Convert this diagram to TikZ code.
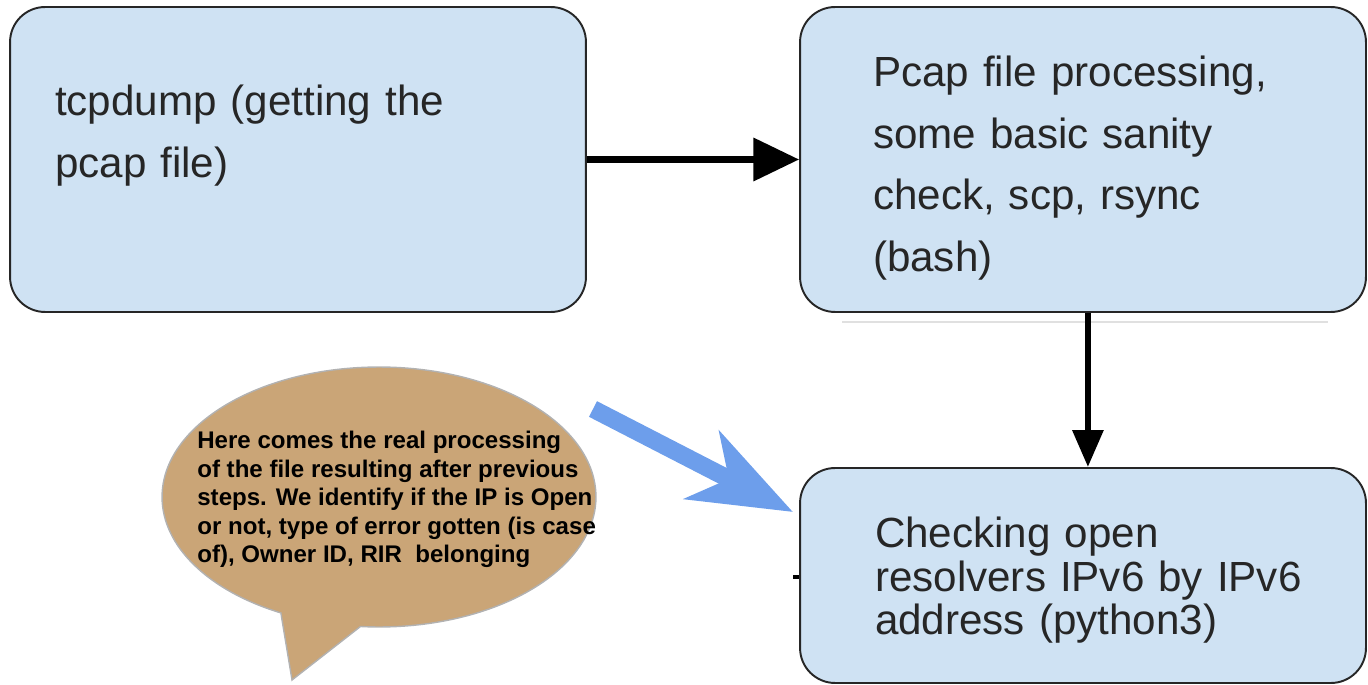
\documentclass[tikz,border=0pt]{standalone}
\usepackage{fontspec}
\setmainfont{Liberation Sans}
\usetikzlibrary{arrows.meta,shapes.callouts}
\definecolor{boxblue}{RGB}{207,226,243}
\definecolor{bubbletan}{RGB}{202,165,119}
\definecolor{hintblue}{RGB}{109,158,235}
\begin{document}
\begin{tikzpicture}[x=0.02cm, y=-0.02cm,
		box/.style={rectangle, rounded corners=0.7cm, draw=black!85, line width=1.1pt, fill=boxblue, align=left, text=black!85, font=\fontsize{24}{35}\selectfont},
		bubble/.style={ellipse callout, draw=black!30, line width=0.8pt, fill=bubbletan, minimum width=8.68cm, minimum height=5.2cm, callout pointer arc=22},
		note/.style={align=left, inner sep=0pt, font=\bfseries\fontsize{13.7}{16.2}\selectfont},
		flow/.style={draw=black, line width=3.6pt},
		hint/.style={draw=hintblue, line width=10pt, -{Stealth[length=58pt, width=43pt, inset=17pt]}}
		]
	\useasboundingbox (0,0) rectangle (1368,685);
	% the three steps
	\node [box, minimum width=11.52cm, minimum height=6.1cm, inner xsep=0.9cm, text width=9.72cm, text depth=67pt] (tcpdump) at (298,159.5) {tcpdump (getting the\\pcap file)};
	\node [box, minimum width=11.32cm, minimum height=6.1cm, inner xsep=1.46cm, text width=8.4cm, text depth=100pt] (pcap) at (1083,159.5) {Pcap file processing,\\some basic sanity\\check, scp, rsync\\(bash)};
	\node [box, minimum width=11.32cm, minimum height=4.3cm, inner xsep=1.5cm, text width=8.32cm, text depth=49pt, font=\fontsize{24}{24.8}\selectfont] (resolver) at (1083,575.5) {Checking open\\\mbox{resolvers IPv6 by IPv6}\\address (python3)};
	\draw [black!12, line width=0.6pt] (842,322) -- (1328,322);
	\draw [flow, -{Triangle[length=26pt, width=24pt]}] (tcpdump) -- (pcap);
	\draw [flow, -{Triangle[length=21pt, width=17pt]}] ([xshift=2.8pt]pcap.south) -- ([xshift=2.8pt]resolver.north);
	\coordinate (stub) at (793,577);
	\draw [flow, line width=2pt] (stub) -- (stub -| resolver.west);
	% speech bubble
	\node [bubble, callout absolute pointer={(292,680)}] (bubble) at (379,497) {};
	\node [note, anchor=north west] (notetext) at (197,431) {Here comes the real processing\\of the file resulting after previous\\steps. We identify if the IP is Open\\or not, type of error gotten (is case\\of), Owner ID, RIR\ \ belonging};
	\coordinate (hintfrom) at (593,409);
	\coordinate (hintto) at (793,512);
	\draw [hint] (hintfrom) -- (hintto);
\end{tikzpicture}
\end{document}
